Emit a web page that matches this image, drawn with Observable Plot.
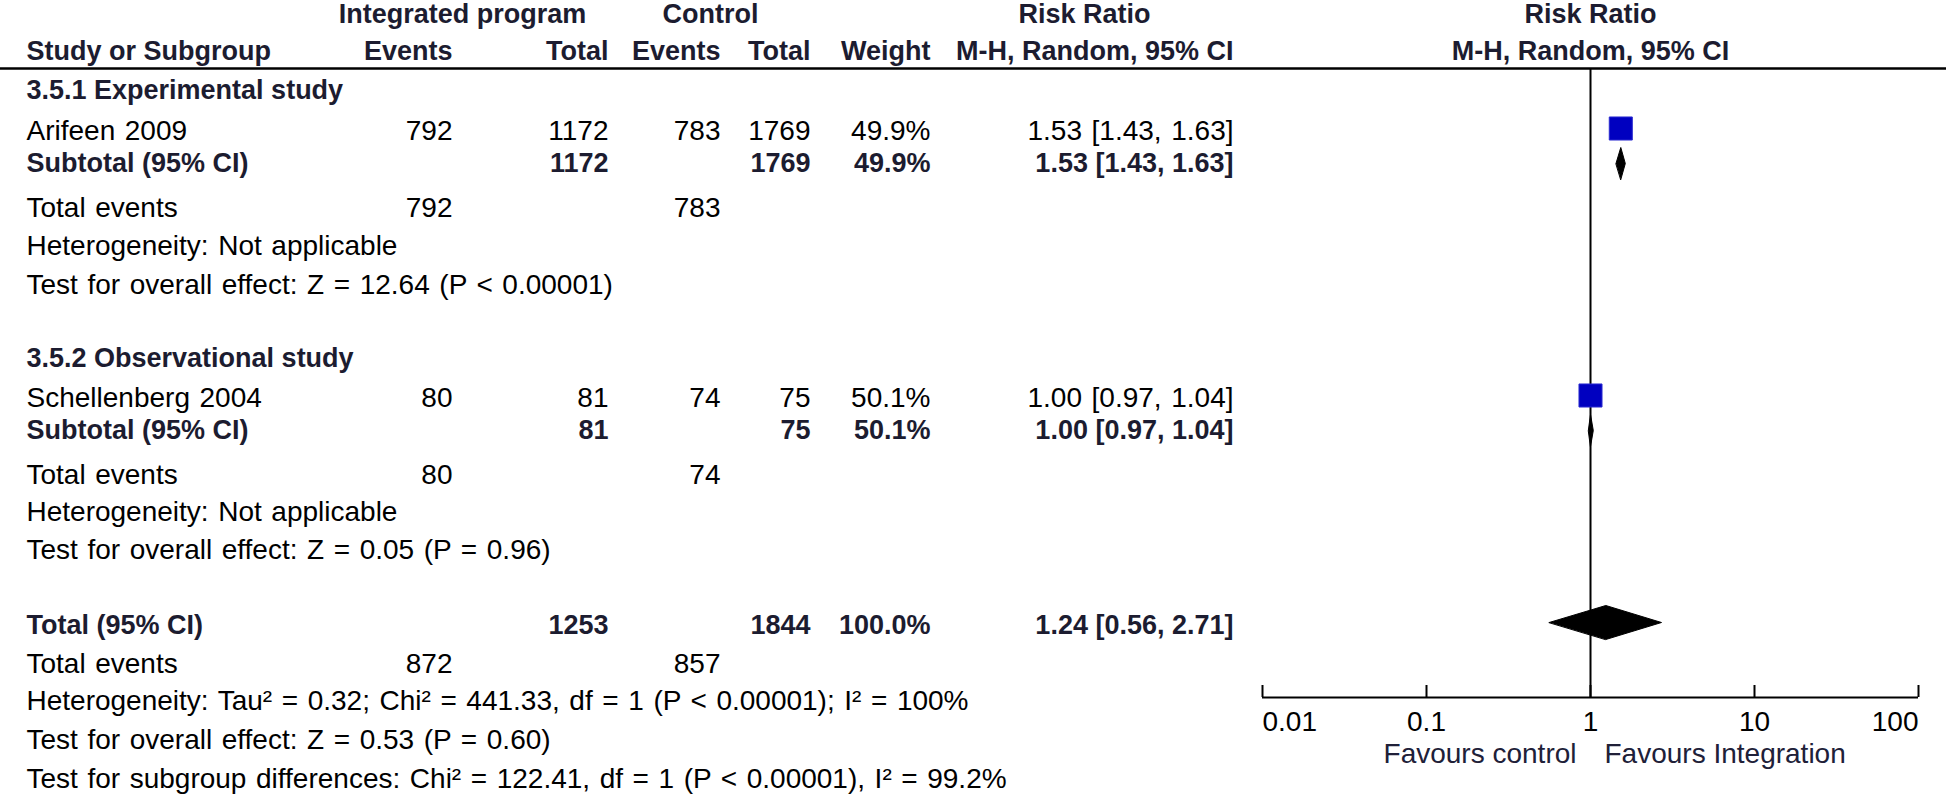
<!DOCTYPE html>
<html><head><meta charset="utf-8">
<script src="https://cdn.jsdelivr.net/npm/d3@7"></script>
<script src="https://cdn.jsdelivr.net/npm/@observablehq/plot@0.6"></script>
<style>html,body{margin:0;padding:0;background:#fff;} #chart svg{display:block;}</style>
</head><body><div id="chart"></div>
<script>
// ---------------- data ----------------
const headerGroups = ["Integrated program", "Control", "Risk Ratio"];
const headerCols = ["Study or Subgroup", "Events", "Total", "Events", "Total", "Weight", "M-H, Random, 95% CI"];
const subgroupNames = ["3.5.1 Experimental study", "3.5.2 Observational study"];
const studyNames = ["Arifeen 2009", "Schellenberg 2004"];
const intEvents = [792, 80];
const intTotals = [1172, 81];
const ctrlEvents = [783, 74];
const ctrlTotals = [1769, 75];
const weights = [49.9, 50.1];
const rr = [1.53, 1.00];
const rrLow = [1.43, 0.97];
const rrHigh = [1.63, 1.04];
const hetText = ["Heterogeneity: Not applicable", "Heterogeneity: Not applicable"];
const effectText = ["Test for overall effect: Z = 12.64 (P < 0.00001)", "Test for overall effect: Z = 0.05 (P = 0.96)"];
const totalRR = [1.24, 0.56, 2.71]; // estimate, lower, upper
const totalEvents = [872, 857];     // integrated, control
const totalN = [1253, 1844];        // integrated, control
const totalWeight = [100.0];
const overallText = [
  "Heterogeneity: Tau\u00B2 = 0.32; Chi\u00B2 = 441.33, df = 1 (P < 0.00001); I\u00B2 = 100%",
  "Test for overall effect: Z = 0.53 (P = 0.60)",
  "Test for subgroup differences: Chi\u00B2 = 122.41, df = 1 (P < 0.00001), I\u00B2 = 99.2%"
];
const axisTicks = [0.01, 0.1, 1, 10, 100];
const tickLabels = ["0.01", "0.1", "1", "10", "100"];
const favoursLabels = ["Favours control", "Favours Integration"];

// ---------------- layout ----------------
const W = 1946, H = 794;
const FONT = "'Liberation Sans', Arial, Helvetica, sans-serif";
const REG = 28, BOLD = 27;
const INK = "#000", BOLD_INK = "#1c1c30";
const COL = {label: 26, intEv: 452, intTot: 608, ctrlEv: 720, ctrlTot: 810, weight: 930, rr: 1233};
const GROUP_X = [462, 710, 1084];
const Y = {
  h1: 14, h2: 51, rule: 68,
  sg: [90, 358], study: [131, 398], sub: [163, 430], tev: [208, 475], het: [246, 512], eff: [285, 550],
  total: 625, totTev: 664, overall: [701, 740, 779],
  axis: 697, tickLab: 722, favours: 754
};

const fmtRR = (e, l, h) => `${e.toFixed(2)} [${l.toFixed(2)}, ${h.toFixed(2)}]`;
const fmtW = w => `${w.toFixed(1)}%`;

const rows = [];
rows.push({y: Y.h2, bold: true, label: headerCols[0], intEv: headerCols[1], intTot: headerCols[2],
  ctrlEv: headerCols[3], ctrlTot: headerCols[4], weight: headerCols[5], rr: headerCols[6]});
subgroupNames.forEach((name, i) => {
  rows.push({y: Y.sg[i], bold: true, label: name});
  rows.push({y: Y.study[i], bold: false, label: studyNames[i], intEv: String(intEvents[i]), intTot: String(intTotals[i]),
    ctrlEv: String(ctrlEvents[i]), ctrlTot: String(ctrlTotals[i]), weight: fmtW(weights[i]), rr: fmtRR(rr[i], rrLow[i], rrHigh[i])});
  rows.push({y: Y.sub[i], bold: true, label: "Subtotal (95% CI)", intTot: String(intTotals[i]),
    ctrlTot: String(ctrlTotals[i]), weight: fmtW(weights[i]), rr: fmtRR(rr[i], rrLow[i], rrHigh[i])});
  rows.push({y: Y.tev[i], bold: false, label: "Total events", intEv: String(intEvents[i]), ctrlEv: String(ctrlEvents[i])});
  rows.push({y: Y.het[i], bold: false, label: hetText[i]});
  rows.push({y: Y.eff[i], bold: false, label: effectText[i]});
});
rows.push({y: Y.total, bold: true, label: "Total (95% CI)", intTot: String(totalN[0]), ctrlTot: String(totalN[1]),
  weight: fmtW(totalWeight[0]), rr: fmtRR(totalRR[0], totalRR[1], totalRR[2])});
rows.push({y: Y.totTev, bold: false, label: "Total events", intEv: String(totalEvents[0]), ctrlEv: String(totalEvents[1])});
overallText.forEach((t, i) => rows.push({y: Y.overall[i], bold: false, label: t}));

function column(key, dx, anchor) {
  return [false, true].map(b => Plot.text(rows.filter(r => !!r.bold === b && r[key] != null), {
    frameAnchor: "left", dx, y: "y", text: key, textAnchor: anchor,
    fontSize: b ? BOLD : REG, fontWeight: b ? "bold" : "normal", fill: b ? BOLD_INK : INK
  }));
}

// diamonds (subtotals + overall)
const diamonds = [
  ...rr.map((e, i) => ({id: i, est: e, lo: rrLow[i], hi: rrHigh[i], y: Y.sub[i], h: 16})),
  {id: 2, est: totalRR[0], lo: totalRR[1], hi: totalRR[2], y: Y.total - 3, h: 17}
];
const diamondPts = diamonds.flatMap(d => [
  {id: d.id, x: d.lo, y: d.y}, {id: d.id, x: d.est, y: d.y - d.h},
  {id: d.id, x: d.hi, y: d.y}, {id: d.id, x: d.est, y: d.y + d.h}
]);
const idx = studyNames.map((_, i) => i);

const chart = Plot.plot({
  width: W, height: H, margin: 0,
  x: {type: "log", domain: [0.01, 100], range: [1262, 1918], axis: null},
  y: {domain: [0, H], range: [0, H], axis: null},
  style: {fontFamily: FONT, background: "#fff", overflow: "visible"},
  marks: [
    // group headers
    ...headerGroups.map((t, i) => Plot.text([t], {frameAnchor: "left", dx: GROUP_X[i], y: () => Y.h1, text: d => d,
      textAnchor: "middle", fontSize: BOLD, fontWeight: "bold", fill: BOLD_INK})),
    Plot.text([headerGroups[2]], {x: () => 1, y: () => Y.h1, text: d => d, textAnchor: "middle", fontSize: BOLD, fontWeight: "bold", fill: BOLD_INK}),
    Plot.text([headerCols[6]], {x: () => 1, y: () => Y.h2, text: d => d, textAnchor: "middle", fontSize: BOLD, fontWeight: "bold", fill: BOLD_INK}),
    // table columns
    ...column("label", COL.label, "start"),
    ...column("intEv", COL.intEv, "end"),
    ...column("intTot", COL.intTot, "end"),
    ...column("ctrlEv", COL.ctrlEv, "end"),
    ...column("ctrlTot", COL.ctrlTot, "end"),
    ...column("weight", COL.weight, "end"),
    ...column("rr", COL.rr, "end"),
    // header rule
    Plot.ruleY([Y.rule], {stroke: "#000", strokeWidth: 2.5}),
    // line of no effect
    Plot.ruleX([1], {y1: Y.rule + 1, y2: Y.axis, stroke: "#000", strokeWidth: 2}),
    // study CIs and squares
    Plot.ruleY(idx, {y: i => Y.study[i] - 3, x1: i => rrLow[i], x2: i => rrHigh[i], stroke: "#000", strokeWidth: 2}),
    Plot.dot(idx, {x: i => rr[i], y: i => Y.study[i] - 3, symbol: "square", r: 13, fill: "#0000c0", stroke: "#2a2ad0", strokeWidth: 1}),
    // diamonds
    Plot.line(diamondPts, {x: "x", y: "y", z: "id", curve: "linear-closed", fill: "#000", stroke: "#000", strokeWidth: 1}),
    // axis
    Plot.ruleY([Y.axis], {x1: () => 0.01, x2: () => 100, stroke: "#000", strokeWidth: 2}),
    Plot.ruleX(axisTicks, {x: d => d, y1: Y.axis - 12, y2: Y.axis, stroke: "#000", strokeWidth: 2}),
    Plot.text(axisTicks.filter((d, i) => i === 0), {x: d => d, y: () => Y.tickLab, text: d => tickLabels[axisTicks.indexOf(d)], textAnchor: "start", fontSize: REG, fill: INK}),
    Plot.text(axisTicks.filter((d, i) => i > 0 && i < axisTicks.length - 1), {x: d => d, y: () => Y.tickLab, text: d => tickLabels[axisTicks.indexOf(d)], textAnchor: "middle", fontSize: REG, fill: INK}),
    Plot.text(axisTicks.filter((d, i) => i === axisTicks.length - 1), {x: d => d, y: () => Y.tickLab, text: d => tickLabels[axisTicks.indexOf(d)], textAnchor: "end", fontSize: REG, fill: INK}),
    // favours labels
    Plot.text([favoursLabels[0]], {x: () => 1, y: () => Y.favours, text: d => d, textAnchor: "end", dx: -14, fontSize: REG, fill: "#202038"}),
    Plot.text([favoursLabels[1]], {x: () => 1, y: () => Y.favours, text: d => d, textAnchor: "start", dx: 14, fontSize: REG, fill: "#202038"})
  ]
});
// the reference's small-size hinted regular text has slightly wider word gaps
d3.select(chart).selectAll('g[font-weight="normal"]').attr("word-spacing", 1.8);
document.getElementById("chart").appendChild(chart);
</script>
</body></html>
